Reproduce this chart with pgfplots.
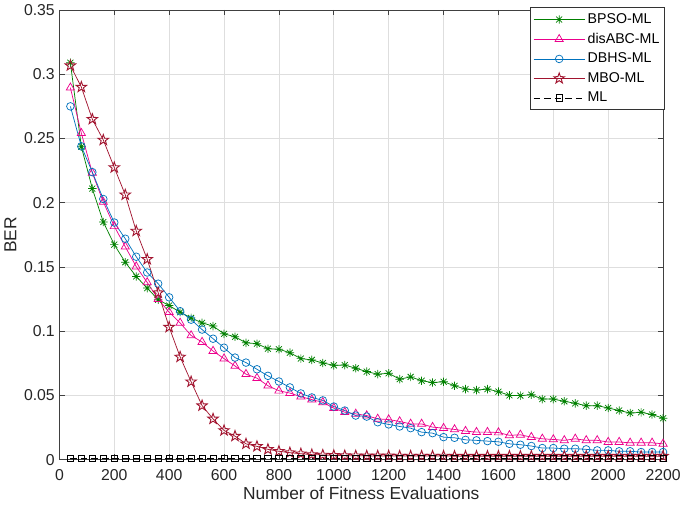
\documentclass[border=0pt]{standalone}
\usepackage{pgfplots}
\pgfplotsset{compat=1.18}
\usepackage{fontspec}
\setmainfont{Liberation Sans}
\definecolor{mgreen}{rgb}{0,0.5,0}
\definecolor{mblue}{rgb}{0,0.447,0.741}
\definecolor{mred}{rgb}{0.635,0.078,0.184}
\definecolor{gridc}{rgb}{0.87,0.87,0.87}
\pgfdeclareplotmark{ast8}{%
  \pgfpathmoveto{\pgfqpoint{-\pgfplotmarksize}{0pt}}\pgfpathlineto{\pgfqpoint{\pgfplotmarksize}{0pt}}%
  \pgfpathmoveto{\pgfqpoint{0pt}{-\pgfplotmarksize}}\pgfpathlineto{\pgfqpoint{0pt}{\pgfplotmarksize}}%
  \pgfpathmoveto{\pgfqpoint{-0.707\pgfplotmarksize}{-0.707\pgfplotmarksize}}\pgfpathlineto{\pgfqpoint{0.707\pgfplotmarksize}{0.707\pgfplotmarksize}}%
  \pgfpathmoveto{\pgfqpoint{-0.707\pgfplotmarksize}{0.707\pgfplotmarksize}}\pgfpathlineto{\pgfqpoint{0.707\pgfplotmarksize}{-0.707\pgfplotmarksize}}%
  \pgfusepathqstroke}
\pgfdeclareplotmark{pstar}{%
  \pgfpathmoveto{\pgfpointpolar{90}{\pgfplotmarksize}}%
  \pgfpathlineto{\pgfpointpolar{126}{0.4\pgfplotmarksize}}%
  \pgfpathlineto{\pgfpointpolar{162}{\pgfplotmarksize}}%
  \pgfpathlineto{\pgfpointpolar{198}{0.4\pgfplotmarksize}}%
  \pgfpathlineto{\pgfpointpolar{234}{\pgfplotmarksize}}%
  \pgfpathlineto{\pgfpointpolar{270}{0.4\pgfplotmarksize}}%
  \pgfpathlineto{\pgfpointpolar{306}{\pgfplotmarksize}}%
  \pgfpathlineto{\pgfpointpolar{342}{0.4\pgfplotmarksize}}%
  \pgfpathlineto{\pgfpointpolar{18}{\pgfplotmarksize}}%
  \pgfpathlineto{\pgfpointpolar{54}{0.4\pgfplotmarksize}}%
  \pgfpathclose\pgfusepathqstroke}

\pgfplotstableread{
x bpso dis dbhs mbo ml
40 0.3090 0.2895 0.2750 0.3067 0.0013
80 0.2436 0.2541 0.2439 0.2900 0.0013
120 0.2110 0.2232 0.2238 0.2650 0.0013
160 0.1850 0.2006 0.2029 0.2488 0.0013
200 0.1674 0.1817 0.1846 0.2274 0.0013
240 0.1537 0.1658 0.1720 0.2062 0.0013
280 0.1426 0.1503 0.1580 0.1780 0.0013
320 0.1336 0.1380 0.1457 0.1560 0.0013
360 0.1245 0.1250 0.1370 0.1300 0.0013
400 0.1200 0.1148 0.1264 0.1032 0.0013
440 0.1148 0.1065 0.1156 0.0800 0.0013
480 0.1104 0.0967 0.1090 0.0607 0.0013
520 0.1065 0.0916 0.1013 0.0421 0.0013
560 0.1040 0.0846 0.0942 0.0318 0.0013
600 0.0980 0.0787 0.0872 0.0228 0.0013
640 0.0957 0.0730 0.0795 0.0184 0.0013
680 0.0910 0.0666 0.0756 0.0124 0.0013
720 0.0903 0.0635 0.0704 0.0104 0.0013
760 0.0864 0.0576 0.0653 0.0081 0.0013
800 0.0860 0.0537 0.0609 0.0066 0.0013
840 0.0833 0.0519 0.0563 0.0055 0.0013
880 0.0787 0.0491 0.0516 0.0047 0.0013
920 0.0777 0.0468 0.0485 0.0040 0.0013
960 0.0753 0.0447 0.0462 0.0037 0.0013
1000 0.0735 0.0402 0.0414 0.0034 0.0013
1040 0.0737 0.0370 0.0383 0.0032 0.0013
1080 0.0712 0.0357 0.0344 0.0031 0.0013
1120 0.0686 0.0344 0.0336 0.0030 0.0013
1160 0.0666 0.0318 0.0292 0.0030 0.0013
1200 0.0673 0.0313 0.0275 0.0030 0.0013
1240 0.0627 0.0298 0.0259 0.0029 0.0013
1280 0.0645 0.0279 0.0246 0.0029 0.0013
1320 0.0615 0.0279 0.0215 0.0029 0.0013
1360 0.0601 0.0254 0.0207 0.0029 0.0013
1400 0.0607 0.0246 0.0176 0.0029 0.0013
1440 0.0576 0.0236 0.0171 0.0028 0.0013
1480 0.0550 0.0223 0.0155 0.0028 0.0013
1520 0.0542 0.0215 0.0151 0.0028 0.0013
1560 0.0550 0.0215 0.0145 0.0028 0.0013
1600 0.0530 0.0212 0.0140 0.0028 0.0013
1640 0.0501 0.0190 0.0124 0.0028 0.0013
1680 0.0499 0.0194 0.0117 0.0028 0.0013
1720 0.0506 0.0176 0.0107 0.0028 0.0013
1760 0.0472 0.0163 0.0091 0.0028 0.0013
1800 0.0472 0.0158 0.0091 0.0028 0.0013
1840 0.0455 0.0151 0.0086 0.0028 0.0013
1880 0.0439 0.0163 0.0086 0.0028 0.0013
1920 0.0421 0.0151 0.0081 0.0028 0.0013
1960 0.0421 0.0151 0.0073 0.0028 0.0013
2000 0.0403 0.0138 0.0073 0.0028 0.0013
2040 0.0383 0.0138 0.0066 0.0028 0.0013
2080 0.0364 0.0132 0.0066 0.0028 0.0013
2120 0.0369 0.0132 0.0060 0.0028 0.0013
2160 0.0352 0.0132 0.0060 0.0028 0.0013
2200 0.0323 0.0124 0.0060 0.0028 0.0013
}\datatable

\begin{document}
\begin{tikzpicture}
\begin{axis}[
  scale only axis,
  width=459pt, height=342pt,
  xmin=0, xmax=2200, ymin=0, ymax=0.35,
  xtick={0,200,...,2200},
  ytick={0,0.05,0.1,0.15,0.2,0.25,0.3,0.35},
  scaled ticks=false,
  /pgf/number format/.cd, fixed, precision=2, 1000 sep={}, assume math mode=true,
  /pgfplots/.cd,
  tick label style={font=\fontsize{12}{14}\selectfont, color=black!85},
  xticklabel style={yshift=-3.5pt},
  label style={font=\fontsize{13.2}{15}\selectfont, color=black!85},
  xlabel={Number of Fitness Evaluations},
  ylabel={BER},
  xlabel style={yshift=1.5pt},
  ylabel style={yshift=-1pt},
  grid=major,
  major grid style={color=gridc, line width=0.5pt},
  tick align=inside,
  tick pos=both,
  major tick length=4pt,
  axis line style={color=black!75, line width=0.6pt},
  every tick/.style={color=black!75, line width=0.5pt},
  legend cell align=left,
  legend style={at={(rel axis cs:1,1)}, anchor=north east, xshift=1.5pt, yshift=2pt,
    font=\fontsize{10.8}{12}\selectfont, draw=black!80, line width=0.5pt,
    inner xsep=2pt, inner ysep=2.5pt, row sep=1.8pt},
  legend image code/.code={%
    \draw[mark repeat=2,mark phase=2] plot coordinates {(0cm,0cm)(0.68cm,0cm)(1.36cm,0cm)};},
  every axis plot/.append style={line width=0.55pt},
]
\addplot[color=mgreen, mark=ast8, mark size=3.2pt, mark options={solid}] table[x=x,y=bpso]{\datatable};
\addlegendentry{BPSO-ML}
\addplot[color=magenta, mark=triangle, mark size=3.6pt, mark options={solid}] table[x=x,y=dis]{\datatable};
\addlegendentry{disABC-ML}
\addplot[color=mblue, mark=o, mark size=2.9pt, mark options={solid}] table[x=x,y=dbhs]{\datatable};
\addlegendentry{DBHS-ML}
\addplot[color=mred, mark=pstar, mark size=4.2pt, mark options={solid, line width=0.7pt}] table[x=x,y=mbo]{\datatable};
\addlegendentry{MBO-ML}
\addplot[color=black, dash pattern=on 5pt off 3pt, mark=square, mark size=2.4pt, mark options={solid}] table[x=x,y=ml]{\datatable};
\addlegendentry{ML}
\end{axis}
\end{tikzpicture}
\end{document}
